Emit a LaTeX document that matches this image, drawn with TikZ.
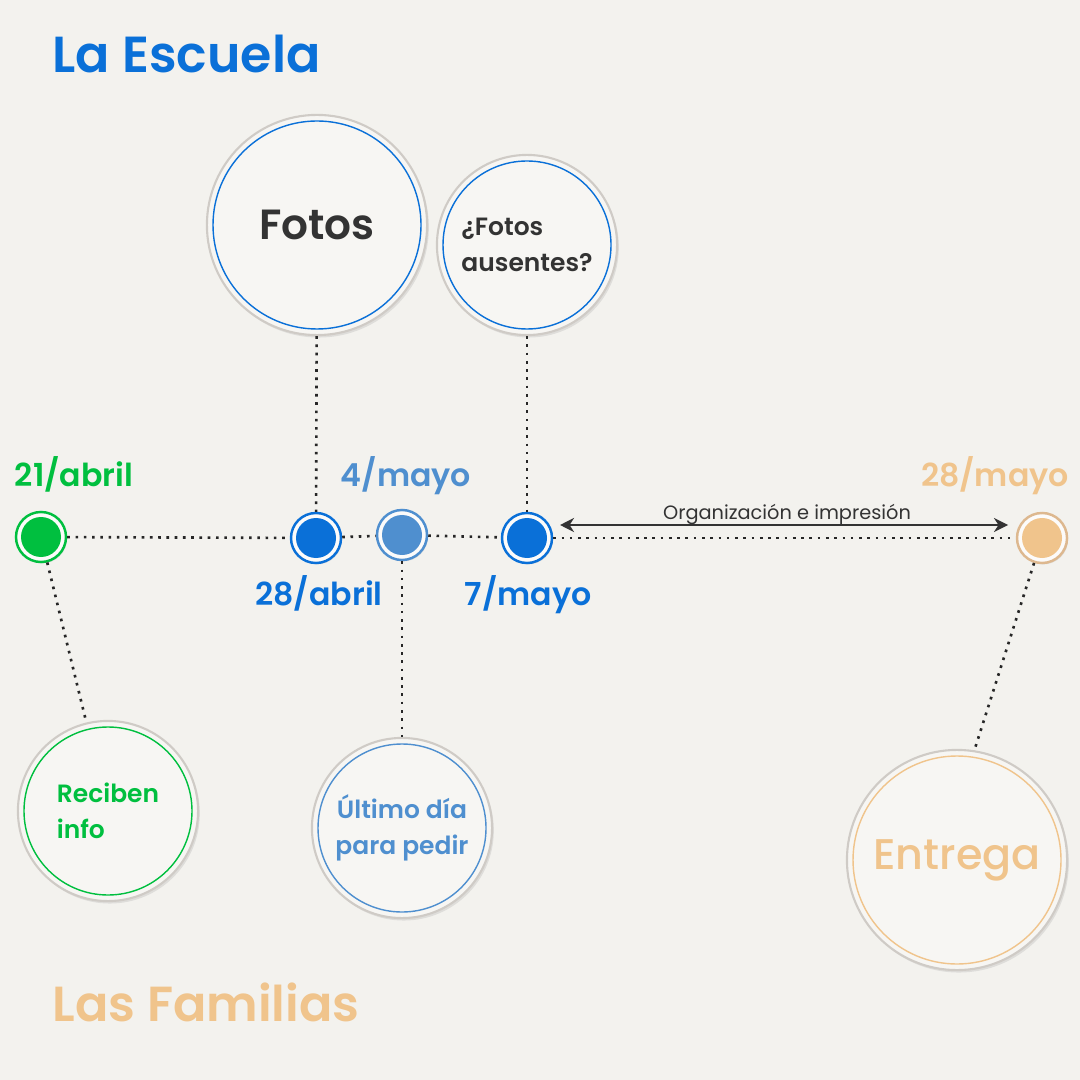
\documentclass[tikz,border=0pt]{standalone}
\usepackage{fontspec}
\setmainfont{Poppins}[BoldFont={Poppins SemiBold}]
\newfontfamily\medfont{Poppins Medium}
\usetikzlibrary{arrows.meta,shadows}

\definecolor{bgcol}{HTML}{F3F2EE}
\definecolor{bubblefill}{HTML}{F7F6F3}
\definecolor{ringgray}{HTML}{CFCBC6}
\definecolor{escuela}{HTML}{0A70D8}
\definecolor{lightblue}{HTML}{4F8FCF}
\definecolor{verde}{HTML}{00BF3F}
\definecolor{familia}{HTML}{F0C48C}
\definecolor{familiaring}{HTML}{DDB88F}
\definecolor{darktext}{HTML}{333333}

\begin{document}
\begin{tikzpicture}[x=0.01cm,y=-0.01cm,
  bubble/.style 2 args={circle,draw=ringgray,line width=0.6pt,fill=bubblefill,
    inner sep=0pt,minimum size={0.02cm*#2},
    drop shadow={shadow xshift=0.5pt,shadow yshift=-0.7pt,opacity=0.18},
    path picture={\draw[#1,line width=0.4pt] (path picture bounding box.center) circle (#2-6);}},
  dot/.style 2 args={circle,draw=#2,line width=0.7pt,fill=white!60!bubblefill,
    inner sep=0pt,minimum size=0.5cm,
    drop shadow={shadow xshift=0.3pt,shadow yshift=-0.4pt,opacity=0.2},
    path picture={\fill[#1] (path picture bounding box.center) circle (20);}},
  link/.style={black!85,line width=0.75pt,dash pattern=on 0.75pt off 1.6pt},
  datelabel/.style={font=\bfseries\fontsize{9}{11}\selectfont,anchor=base},
  small/.style={font=\bfseries\fontsize{7.1}{10.2}\selectfont}]

% Background
\useasboundingbox (0,0) rectangle (1080,1080);
\fill[bgcol] (0,0) rectangle (1080,1080);

% Titles
\node[escuela,anchor=base west,inner sep=0pt,font=\bfseries\fontsize{14.4}{16}\selectfont] (escuelaT) at (52,73) {La Escuela};
\node[familia,anchor=base west,inner sep=0pt,font=\bfseries\fontsize{14}{16}\selectfont] (familiasT) at (52,1021) {Las Familias};

% Timeline dots
\node[dot={verde}{verde}] (d1) at (41,537) {};
\node[dot={escuela}{escuela}] (d2) at (316,538) {};
\node[dot={lightblue}{lightblue}] (d3) at (402,535) {};
\node[dot={escuela}{escuela}] (d4) at (527,538) {};
\node[dot={familia}{familiaring}] (d5) at (1042,538) {};

% Timeline
\draw[link] (d1) -- (d2);
\draw[link] (d2) -- (d3);
\draw[link] (d3) -- (d4);
\draw[link] (d4) -- (d5);

% Dates
\node[datelabel,verde] (f1) at (74,486) {21/abril};
\node[datelabel,lightblue] (f3) at (406,486) {4/mayo};
\node[datelabel,familia] (f5) at (995,486) {28/mayo};
\node[datelabel,escuela] (f2) at (319,605) {28/abril};
\node[datelabel,escuela] (f4) at (528,605) {7/mayo};

% Organisation arrow
\coordinate (orgA) at (560,525);
\coordinate (orgB) at (1008,525);
\draw[darktext,line width=0.8pt,{Stealth[length=4pt,width=4pt]}-{Stealth[length=4pt,width=4pt]}] (orgA) -- (orgB);
\node[darktext,anchor=base,inner sep=0pt,font=\fontsize{5.5}{7}\selectfont] (orgT) at (787,520) {Organización e impresión};

% School bubbles
\node[bubble={escuela}{110},text=darktext,font=\bfseries\fontsize{12}{14}\selectfont] (fotos) at (317,225) {Fotos};
\node[bubble={escuela}{90},text=darktext,small,align=left] (ausentes) at (527,245) {¿Fotos\\ausentes?};

% Family bubbles
\node[bubble={verde}{90},text=verde,small,align=left] (reciben) at (108,811) {Reciben\\info};
\node[bubble={lightblue}{90},text=lightblue,small,align=center] (ultimo) at (402,828) {Último día\\para pedir};
\node[bubble={familia}{110},text=familia,font=\medfont\fontsize{12.2}{14}\selectfont] (entrega) at (957,860) {Entrega};

% Connectors
\draw[link] (fotos) -- (d2);
\draw[link] (ausentes) -- (d4);
\draw[link] (d1) -- (reciben);
\draw[link] (d3) -- (ultimo);
\draw[link] (d5) -- (entrega.81);

\end{tikzpicture}
\end{document}
